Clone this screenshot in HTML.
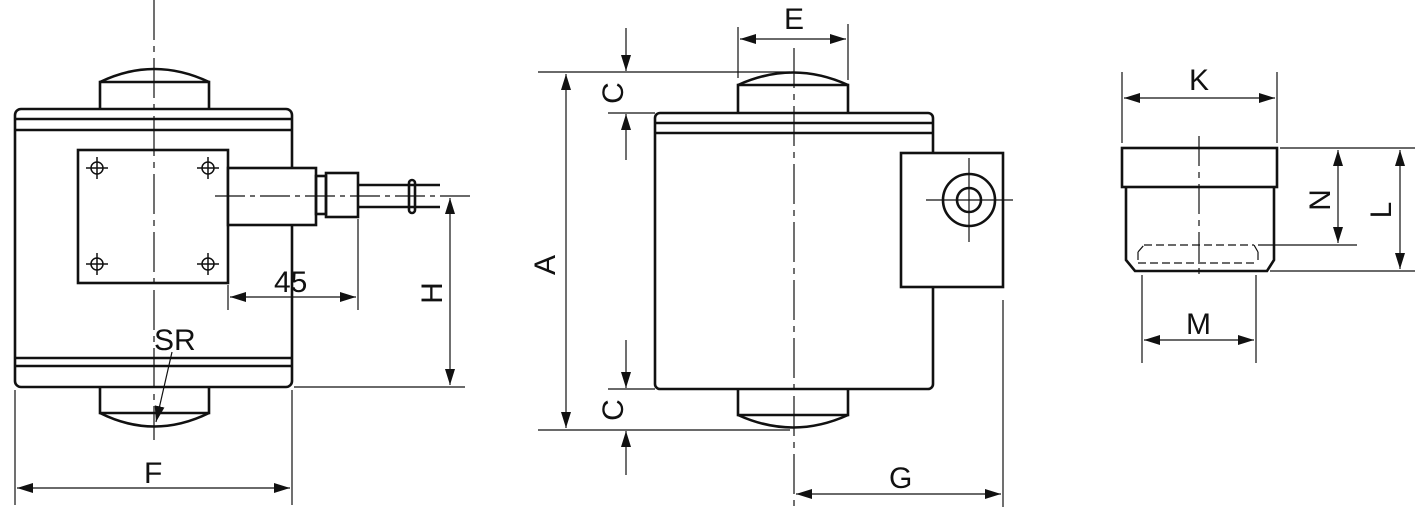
<!DOCTYPE html>
<html><head><meta charset="utf-8"><style>
html,body{margin:0;padding:0;background:#fff;}
svg{display:block}
text{font-family:"Liberation Sans",sans-serif;font-size:30px;fill:#111;}
</style></head><body>
<svg width="1425" height="517" viewBox="0 0 1425 517" xmlns="http://www.w3.org/2000/svg">
<defs>
<marker id="a" viewBox="0 0 16 10" refX="16" refY="5" markerWidth="16" markerHeight="10" markerUnits="userSpaceOnUse" orient="auto-start-reverse"><path d="M0,0L16,5L0,10z" fill="#111"/></marker>
</defs>
<g fill="none" stroke="#111" stroke-width="2.6">
<rect x="15" y="109" width="277" height="278" rx="6"/>
<line x1="15" y1="119" x2="292" y2="119"/><line x1="15" y1="130" x2="292" y2="130"/>
<line x1="15" y1="358" x2="292" y2="358"/><line x1="15" y1="366" x2="292" y2="366"/>
<path d="M100,109V82H209V109"/><path d="M100,82Q154,56 209,82"/>
<path d="M100,387V413H209V387"/><path d="M100,413Q154,440 209,413"/>
<rect x="78" y="150" width="150" height="133" fill="#fff"/>
<rect x="228" y="168" width="88" height="57" fill="#fff"/>
<rect x="316" y="176" width="10" height="38"/>
<rect x="326" y="173" width="32" height="44"/>
<path d="M358,185H440M358,207H440"/>
<rect x="409" y="180" width="6" height="33" rx="3"/>
</g>
<g fill="none" stroke="#111" stroke-width="1.5">
<circle cx="97" cy="168" r="6"/><circle cx="208" cy="168" r="6"/>
<circle cx="97" cy="264" r="6"/><circle cx="208" cy="264" r="6"/>
<path d="M86,168h22M97,157v22M197,168h22M208,157v22M86,264h22M97,253v22M197,264h22M208,253v22"/>
</g>
<g fill="none" stroke="#111" stroke-width="1.2">
<line x1="154" y1="0" x2="154" y2="440" stroke-dasharray="40,6,6,6"/>
<line x1="215" y1="196" x2="470" y2="196" stroke-dasharray="30,5,5,5"/>
<line x1="228" y1="285" x2="228" y2="310"/><line x1="358" y1="219" x2="358" y2="310"/>
<line x1="230" y1="297" x2="356" y2="297" marker-start="url(#a)" marker-end="url(#a)"/>
<line x1="450" y1="198" x2="450" y2="385" marker-start="url(#a)" marker-end="url(#a)"/>
<line x1="294" y1="387" x2="465" y2="387"/>
<line x1="15" y1="390" x2="15" y2="505"/><line x1="292" y1="390" x2="292" y2="505"/>
<line x1="17" y1="488" x2="290" y2="488" marker-start="url(#a)" marker-end="url(#a)"/>
<line x1="172" y1="352" x2="156" y2="422" marker-end="url(#a)"/>
</g>
<text x="274" y="292">45</text>
<text x="154" y="350">SR</text>
<text x="144" y="483">F</text>
<text transform="translate(442,293) rotate(-90)" text-anchor="middle">H</text>

<g fill="none" stroke="#111" stroke-width="2.6">
<rect x="655" y="113" width="278" height="276" rx="5"/>
<line x1="655" y1="123" x2="933" y2="123"/><line x1="655" y1="133" x2="933" y2="133"/>
<path d="M738,113V85H848V113"/><path d="M738,85Q793,60 848,85"/>
<path d="M738,389V415H848V389"/><path d="M738,415Q793,440 848,415"/>
<rect x="901" y="153" width="102" height="134" fill="#fff"/>
<circle cx="969" cy="200" r="26"/><circle cx="969" cy="200" r="12"/>
</g>
<g fill="none" stroke="#111" stroke-width="1.2">
<path d="M926,200H1013M969,158V242"/>
<line x1="794" y1="48" x2="794" y2="507" stroke-dasharray="40,6,6,6"/>
<line x1="738" y1="27" x2="738" y2="78"/><line x1="848" y1="24" x2="848" y2="80"/>
<line x1="740" y1="39" x2="846" y2="39" marker-start="url(#a)" marker-end="url(#a)"/>
<line x1="538" y1="72" x2="790" y2="72"/><line x1="608" y1="113" x2="655" y2="113"/>
<line x1="538" y1="430" x2="790" y2="430"/><line x1="608" y1="389" x2="655" y2="389"/>
<line x1="626" y1="28" x2="626" y2="71" marker-end="url(#a)"/>
<line x1="626" y1="160" x2="626" y2="114" marker-end="url(#a)"/>
<line x1="626" y1="340" x2="626" y2="388" marker-end="url(#a)"/>
<line x1="626" y1="475" x2="626" y2="431" marker-end="url(#a)"/>
<line x1="566" y1="74" x2="566" y2="428" marker-start="url(#a)" marker-end="url(#a)"/>
<line x1="1003" y1="300" x2="1003" y2="507"/>
<line x1="796" y1="494" x2="1001" y2="494" marker-start="url(#a)" marker-end="url(#a)"/>
</g>
<text x="784" y="29">E</text>
<text transform="translate(623,93) rotate(-90)" text-anchor="middle">C</text>
<text transform="translate(623,410) rotate(-90)" text-anchor="middle">C</text>
<text transform="translate(555,265) rotate(-90)" text-anchor="middle">A</text>
<text x="889" y="488">G</text>

<g fill="none" stroke="#111" stroke-width="2.6">
<rect x="1122" y="148" width="155" height="39"/>
<path d="M1126,187V260L1135,271H1267L1274,260V187"/>
</g>
<g fill="none" stroke="#111" stroke-width="1.2">
<path d="M1144,245H1254M1138,263H1258M1138,252V263M1258,252V263M1138,252L1144,245M1258,252L1254,245" stroke-dasharray="8,4"/>
<line x1="1199" y1="136" x2="1199" y2="280" stroke-dasharray="30,6,6,6"/>
<line x1="1122" y1="72" x2="1122" y2="143"/><line x1="1277" y1="72" x2="1277" y2="143"/>
<line x1="1124" y1="98" x2="1275" y2="98" marker-start="url(#a)" marker-end="url(#a)"/>
<line x1="1280" y1="148" x2="1415" y2="148"/><line x1="1270" y1="271" x2="1415" y2="271"/>
<line x1="1258" y1="245" x2="1357" y2="245"/>
<line x1="1338" y1="150" x2="1338" y2="243" marker-start="url(#a)" marker-end="url(#a)"/>
<line x1="1400" y1="150" x2="1400" y2="269" marker-start="url(#a)" marker-end="url(#a)"/>
<line x1="1142" y1="275" x2="1142" y2="363"/><line x1="1256" y1="275" x2="1256" y2="363"/>
<line x1="1144" y1="340" x2="1254" y2="340" marker-start="url(#a)" marker-end="url(#a)"/>
</g>
<text x="1189" y="90">K</text>
<text transform="translate(1330,200) rotate(-90)" text-anchor="middle">N</text>
<text transform="translate(1391,210) rotate(-90)" text-anchor="middle">L</text>
<text x="1186" y="334">M</text>
</svg>
</body></html>
